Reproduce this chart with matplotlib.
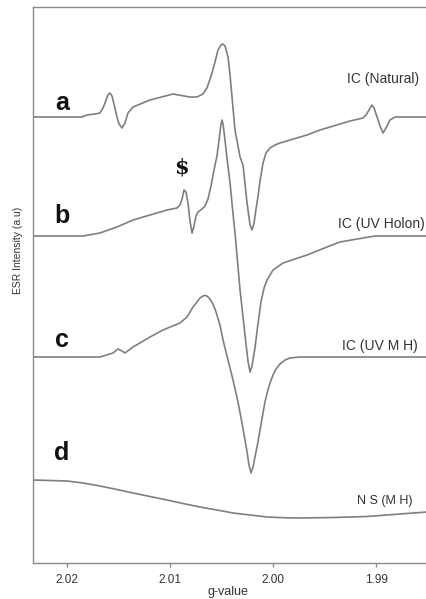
import matplotlib
matplotlib.use('Agg')
import numpy as np
import matplotlib.pyplot as plt

plt.rcParams['font.family'] = ['Liberation Sans', 'DejaVu Sans']

# g-values and relative intensities (a.u., baseline = 0)
g_a = [2.02330, 2.01854, 2.01806, 2.01728, 2.01680, 2.01650, 2.01621, 2.01602, 2.01583,
       2.01563, 2.01544, 2.01515, 2.01495, 2.01466, 2.01437, 2.01408, 2.01359, 2.01194,
       2.00971, 2.00806, 2.00738, 2.00680, 2.00641, 2.00592, 2.00563, 2.00534, 2.00505,
       2.00485, 2.00466, 2.00437, 2.00417, 2.00398, 2.00369, 2.00320, 2.00291, 2.00252,
       2.00223, 2.00204, 2.00184, 2.00165, 2.00146, 2.00126, 2.00097, 2.00068, 2.00029,
       1.99981, 1.99932, 1.99835, 1.99670, 1.99544, 1.99252, 1.99126, 1.99097, 1.99068,
       1.99039, 1.99019, 1.98990, 1.98961, 1.98932, 1.98903, 1.98864, 1.98816, 1.98767,
       1.98505]
i_a = [0, 0, 2, 3, 4, 9, 17, 22, 24,
       21, 13, 0, -7, -11, -6, 4, 10, 17,
       23, 20, 20, 23, 29, 44, 55, 67, 72,
       73, 71, 60, 42, 20, -13, -40, -48, -86,
       -108, -113, -106, -92, -80, -64, -46, -36, -31,
       -28, -26, -23, -18, -13, -4, -1, 2, 7,
       12, 9, 0, -9, -16, -11, -3, 0, 0,
       0]

g_b = [2.02330, 2.01845, 2.01680, 2.01515, 2.01359, 2.01194, 2.01029, 2.00932, 2.00903,
       2.00883, 2.00864, 2.00845, 2.00825, 2.00806, 2.00786, 2.00767, 2.00748, 2.00728,
       2.00689, 2.00660, 2.00631, 2.00602, 2.00573, 2.00544, 2.00524, 2.00505, 2.00495,
       2.00485, 2.00466, 2.00447, 2.00417, 2.00388, 2.00369, 2.00320, 2.00272, 2.00243,
       2.00223, 2.00204, 2.00175, 2.00146, 2.00117, 2.00087, 2.00058, 2.00000, 1.99903,
       1.99670, 1.99476, 1.99350, 1.99126, 1.99010, 1.98505]
i_b = [0, 0, 3, 9, 16, 21, 26, 28, 31,
       37, 46, 44, 33, 15, 3, 10, 20, 24,
       27, 30, 37, 50, 66, 80, 96, 112, 116,
       112, 96, 78, 53, 22, 3, -54, -99, -125,
       -136, -130, -112, -88, -66, -52, -44, -34, -27,
       -19, -11, -6, -2, 0, 0]

g_c = [2.02330, 2.01680, 2.01553, 2.01505, 2.01466, 2.01437, 2.01359, 2.01194, 2.01068,
       2.00903, 2.00835, 2.00777, 2.00738, 2.00709, 2.00680, 2.00660, 2.00641, 2.00612,
       2.00583, 2.00553, 2.00515, 2.00485, 2.00437, 2.00388, 2.00340, 2.00301, 2.00272,
       2.00252, 2.00233, 2.00214, 2.00194, 2.00175, 2.00146, 2.00126, 2.00097, 2.00078,
       2.00049, 2.00029, 2.00000, 1.99971, 1.99932, 1.99883, 1.99835, 1.99738, 1.98505]
i_c = [0, 0, 4, 8, 6, 4, 10, 20, 27,
       34, 40, 50, 55, 59, 61, 61.5, 61, 58,
       53, 45, 32, 17, -3, -23, -45, -66, -83,
       -95, -108, -116, -110, -100, -85, -73, -56, -45,
       -33, -26, -18, -12, -7, -3, -1, 0, 0]

g_d = [2.02330, 2.02165, 2.02000, 2.01845, 2.01680, 2.01515, 2.01359, 2.01194, 2.01029,
       2.00874, 2.00709, 2.00544, 2.00388, 2.00223, 2.00058, 1.99903, 1.99738, 1.99417,
       1.99087, 1.98767, 1.98505]
i_d = [0, -0.5, -1, -3, -6, -9.5, -13, -16.5, -20,
       -23.5, -27, -30, -33, -35, -37, -37.7, -38, -37.5,
       -36.5, -34, -32]

offsets = [446, 327, 206, 83]
letters = ['a', 'b', 'c', 'd']
names = ['IC (Natural)', 'IC (UV Holon)', 'IC (UV M H)', 'N S (M H)']
xticks = [2.02, 2.01, 2.00, 1.99]

fig = plt.figure(figsize=(4.27, 5.99), dpi=100)
ax = fig.add_axes([33 / 427, 36 / 599, 394 / 427, 556 / 599])

line_col = '#7f7f7f'
for g, i, off in zip([g_a, g_b, g_c, g_d], [i_a, i_b, i_c, i_d], offsets):
    ax.plot(g, np.array(i) + off, color=line_col, lw=1.2, solid_joinstyle='round')

ax.set_xlim(2.0233, 1.98505)
ax.set_ylim(0, 556)

# curve letters and sample names
letter_y = [453, 340, 216, 103]
name_x = [1.98583, 1.98524, 1.98592, 1.98641]
name_y = [480, 335, 213, 59]
name_size = [10, 10, 10, 9]
for lt, ly in zip(letters, letter_y):
    ax.text(2.02049, ly, lt, fontsize=18, fontweight='bold', ha='center',
            va='baseline', color='#111111')
for nm, nx, ny, fs in zip(names, name_x, name_y, name_size):
    ax.text(nx, ny, nm, fontsize=fs, ha='right', va='baseline', color='#333333')
ax.text(2.00893, 389, '$', fontsize=15, fontweight='bold', family='serif',
        ha='center', va='baseline', color='#111111')

for s in ['top', 'left', 'bottom']:
    ax.spines[s].set_color('#8a8a8a')
    ax.spines[s].set_linewidth(1.0)
ax.spines['right'].set_visible(False)
ax.set_yticks([])
ax.set_xticks(xticks)
ax.set_xticklabels(['%.2f' % v for v in xticks])
ax.tick_params(axis='x', direction='out', length=3, width=1, color='#8a8a8a',
               labelsize=8.5, labelcolor='#333333', pad=5)

fig.text(18 / 427, 1 - 250 / 599, 'ESR Intensity (a.u)', rotation=90, fontsize=7.5,
         ha='center', va='center', color='#333333')
fig.text(228 / 427, 1 - 592 / 599, 'g-value', fontsize=9, ha='center', va='center',
         color='#333333')

fig.savefig('out.png', dpi=100)
